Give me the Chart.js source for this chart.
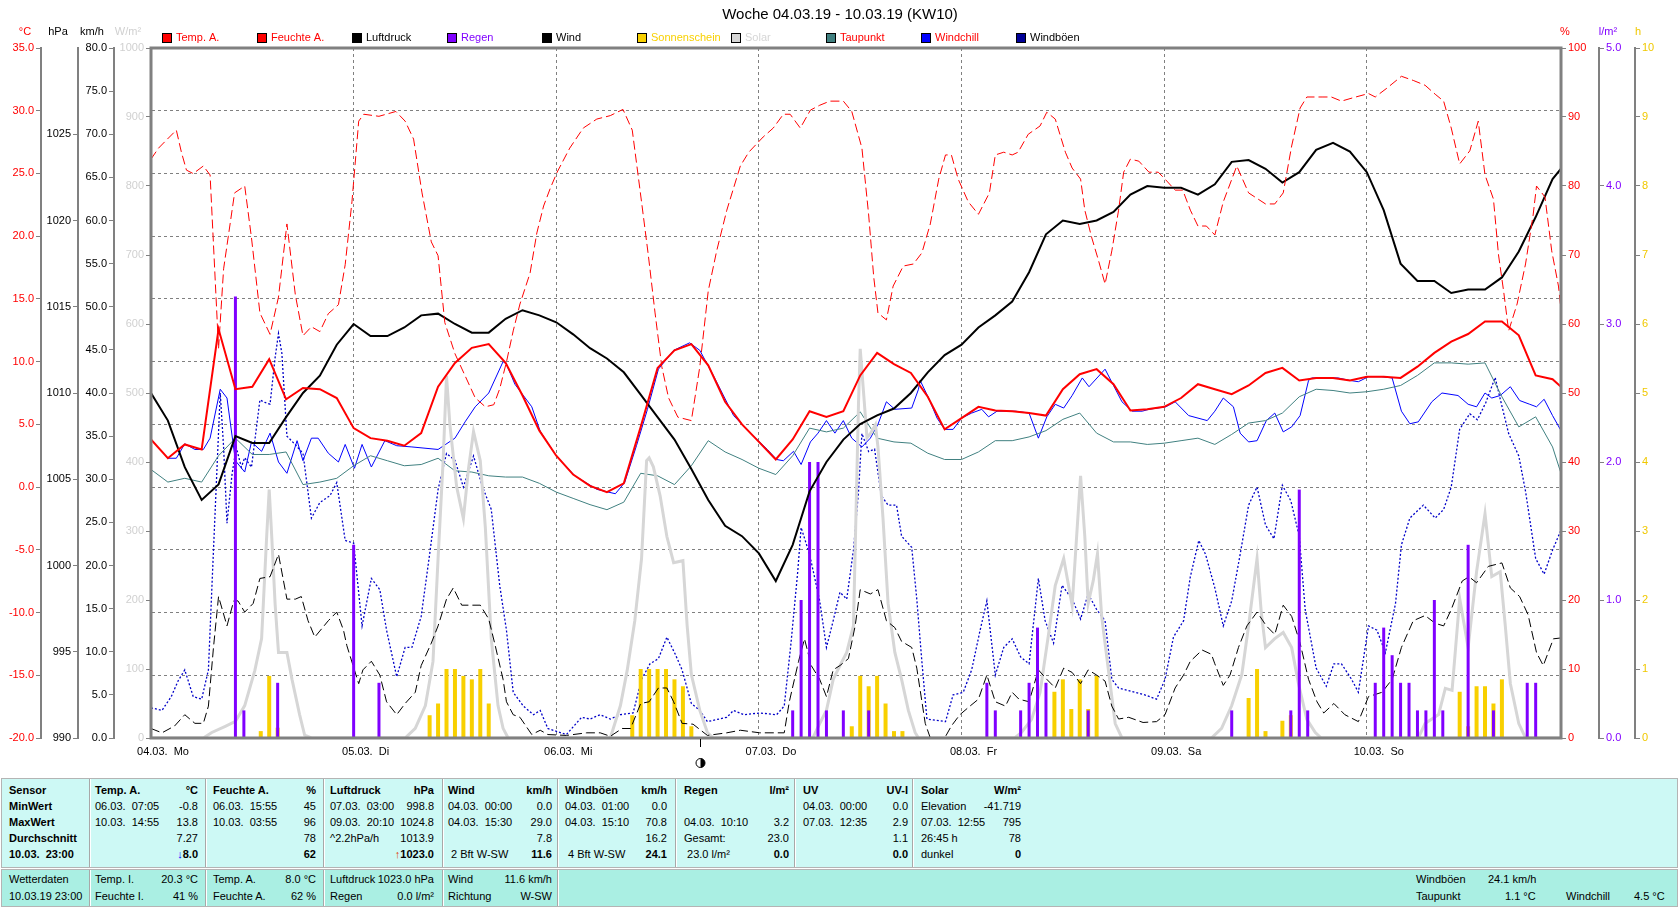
<!DOCTYPE html>
<html>
<head>
<meta charset="utf-8">
<title>Woche 04.03.19 - 10.03.19 (KW10)</title>
<script src="https://cdn.jsdelivr.net/npm/chart.js@4.4.1/dist/chart.umd.min.js"></script>
<style>
  html, body { margin: 0; padding: 0; background: #fff; }
  body { width: 1680px; height: 909px; position: relative; overflow: hidden; font: 11px 'Liberation Sans', Arial, sans-serif; color: #000; }
  #wetter { position: absolute; left: 0; top: 0; }
  .blk { position: absolute; left: 1px; width: 1675px; border: 1px solid #b4b4b4; }
  .sep { position: absolute; width: 1px; background: #a8a8a8; border-right: 1px solid #fff; }
  .col { position: absolute; }
  .col div { display: flex; justify-content: space-between; white-space: pre; height: 16px; line-height: 16px; }
  .low div { height: 17px; line-height: 17px; }
  .t { position: absolute; white-space: pre; line-height: 17px; }
</style>
</head>
<body>
<canvas id="wetter" width="1680" height="770"></canvas>

<div class="blk" style="top:778px;height:88px;background:#cdf9f5"></div>
<div class="blk" style="top:869px;height:36px;background:#aaefe3"></div>
<div class="sep" style="left:89px;top:779px;height:88px"></div>
<div class="sep" style="left:205px;top:779px;height:88px"></div>
<div class="sep" style="left:323px;top:779px;height:88px"></div>
<div class="sep" style="left:442px;top:779px;height:88px"></div>
<div class="sep" style="left:557px;top:779px;height:88px"></div>
<div class="sep" style="left:675px;top:779px;height:88px"></div>
<div class="sep" style="left:794px;top:779px;height:88px"></div>
<div class="sep" style="left:912px;top:779px;height:88px"></div>
<div class="sep" style="left:89px;top:870px;height:36px"></div>
<div class="sep" style="left:205px;top:870px;height:36px"></div>
<div class="sep" style="left:323px;top:870px;height:36px"></div>
<div class="sep" style="left:442px;top:870px;height:36px"></div>
<div class="sep" style="left:557px;top:870px;height:36px"></div>

<div class="col" style="left:9px;width:76px;top:782px">
  <div><b>Sensor</b></div><div><b>MinWert</b></div><div><b>MaxWert</b></div><div><b>Durchschnitt</b></div><div><b>10.03.  23:00</b></div>
</div>
<div class="col" style="left:95px;width:103px;top:782px">
  <div><b>Temp. A.</b><b>°C</b></div>
  <div><span>06.03.  07:05</span><span>-0.8</span></div>
  <div><span>10.03.  14:55</span><span>13.8</span></div>
  <div><span></span><span>7.27</span></div>
  <div><span></span><b><span style="color:#0000ff">↓</span>8.0</b></div>
</div>
<div class="col" style="left:213px;width:103px;top:782px">
  <div><b>Feuchte A.</b><b>%</b></div>
  <div><span>06.03.  15:55</span><span>45</span></div>
  <div><span>10.03.  03:55</span><span>96</span></div>
  <div><span></span><span>78</span></div>
  <div><span></span><b>62</b></div>
</div>
<div class="col" style="left:330px;width:104px;top:782px">
  <div><b>Luftdruck</b><b>hPa</b></div>
  <div><span>07.03.  03:00</span><span>998.8</span></div>
  <div><span>09.03.  20:10</span><span>1024.8</span></div>
  <div><span>^2.2hPa/h</span><span>1013.9</span></div>
  <div><span></span><b><span style="color:#e04000">↑</span>1023.0</b></div>
</div>
<div class="col" style="left:448px;width:104px;top:782px">
  <div><b>Wind</b><b>km/h</b></div>
  <div><span>04.03.  00:00</span><span>0.0</span></div>
  <div><span>04.03.  15:30</span><span>29.0</span></div>
  <div><span></span><span>7.8</span></div>
  <div><span> 2 Bft W-SW</span><b>11.6</b></div>
</div>
<div class="col" style="left:565px;width:102px;top:782px">
  <div><b>Windböen</b><b>km/h</b></div>
  <div><span>04.03.  01:00</span><span>0.0</span></div>
  <div><span>04.03.  15:10</span><span>70.8</span></div>
  <div><span></span><span>16.2</span></div>
  <div><span> 4 Bft W-SW</span><b>24.1</b></div>
</div>
<div class="col" style="left:684px;width:105px;top:782px">
  <div><b>Regen</b><b>l/m²</b></div>
  <div><span></span><span></span></div>
  <div><span>04.03.  10:10</span><span>3.2</span></div>
  <div><span>Gesamt:</span><span>23.0</span></div>
  <div><span> 23.0 l/m²</span><b>0.0</b></div>
</div>
<div class="col" style="left:803px;width:105px;top:782px">
  <div><b>UV</b><b>UV-I</b></div>
  <div><span>04.03.  00:00</span><span>0.0</span></div>
  <div><span>07.03.  12:35</span><span>2.9</span></div>
  <div><span></span><span>1.1</span></div>
  <div><span></span><b>0.0</b></div>
</div>
<div class="col" style="left:921px;width:100px;top:782px">
  <div><b>Solar</b><b>W/m²</b></div>
  <div><span>Elevation</span><span>-41.719</span></div>
  <div><span>07.03.  12:55</span><span>795</span></div>
  <div><span>26:45 h</span><span>78</span></div>
  <div><span>dunkel</span><b>0</b></div>
</div>

<div class="col low" style="left:9px;width:76px;top:871px">
  <div><span>Wetterdaten</span></div><div><span>10.03.19 23:00</span></div>
</div>
<div class="col low" style="left:95px;width:103px;top:871px">
  <div><span>Temp. I.</span><span>20.3 °C</span></div>
  <div><span>Feuchte I.</span><span>41 %</span></div>
</div>
<div class="col low" style="left:213px;width:103px;top:871px">
  <div><span>Temp. A.</span><span>8.0 °C</span></div>
  <div><span>Feuchte A.</span><span>62 %</span></div>
</div>
<div class="col low" style="left:330px;width:104px;top:871px">
  <div><span>Luftdruck</span><span>1023.0 hPa</span></div>
  <div><span>Regen</span><span>0.0 l/m²</span></div>
</div>
<div class="col low" style="left:448px;width:104px;top:871px">
  <div><span>Wind</span><span>11.6 km/h</span></div>
  <div><span>Richtung</span><span>W-SW</span></div>
</div>
<div class="t" style="left:1416px;top:871px">Windböen</div>
<div class="t" style="left:1488px;top:871px">24.1 km/h</div>
<div class="t" style="left:1416px;top:888px">Taupunkt</div>
<div class="t" style="left:1505px;top:888px">1.1 °C</div>
<div class="t" style="left:1566px;top:888px">Windchill</div>
<div class="t" style="left:1634px;top:888px">4.5 °C</div>

<script>
const FONT = "'Liberation Sans', Arial, sans-serif";
const chartTitle = 'Woche 04.03.19 - 10.03.19 (KW10)';

// x axis: hours since 04.03. 00:00
const dayTicks = [0, 24, 48, 72, 96, 120, 144];
const dayLabels = ['04.03.  Mo', '05.03.  Di', '06.03.  Mi', '07.03.  Do', '08.03.  Fr', '09.03.  Sa', '10.03.  So'];
const moonHour = 65;

// two-hourly readings
const grid2h = [0,2,4,6,8,10,12,14,16,18,20,22,24,26,28,30,32,34,36,38,40,42,44,46,48,50,52,54,56,58,60,62,64,66,68,70,72,74,76,78,80,82,84,86,88,90,92,94,96,98,100,102,104,106,108,110,112,114,116,118,120,122,124,126,128,130,132,134,136,138,140,142,144,146,148,150,152,154,156,158,160,162,164,166,167];

const tempA = [3.8,2.3,3.4,3.0,12.6,7.8,8.0,10.2,7.0,7.9,7.8,7.1,4.7,3.9,3.7,3.3,4.3,8.0,9.9,11.1,11.4,
  9.9,7.3,4.5,2.5,1.0,0.1,-0.4,0.3,4.8,9.5,10.9,11.4,9.7,6.8,5.0,3.6,2.2,3.8,6.05,5.6,6.05,8.9,
  10.7,9.8,9.1,7.2,4.6,5.5,6.4,6.1,6.05,5.9,5.7,7.8,9.0,9.4,8.2,6.1,6.2,6.4,7.1,8.2,7.8,
  7.4,8.1,9.1,9.5,8.5,8.7,8.7,8.5,8.8,8.8,8.7,9.6,10.7,11.6,12.2,13.2,13.2,12.1,8.9,8.6,8.0];

const luftdruck = [1010.0,1008.4,1005.7,1003.8,1004.7,1007.5,1007.1,1007.1,1008.6,1010.0,1011.0,1012.8,1014.0,1013.3,1013.3,1013.8,1014.5,1014.6,1014.0,1013.5,1013.5,
  1014.3,1014.8,1014.5,1014.1,1013.4,1012.6,1012.0,1011.2,1009.9,1008.6,1007.3,1005.6,1003.8,1002.3,1001.7,1000.7,999.1,1001.2,1004.3,1006.0,1007.3,1008.2,
  1008.7,1009.1,1010.0,1011.2,1012.2,1012.8,1013.8,1014.5,1015.3,1017.0,1019.2,1020.0,1019.8,1020.0,1020.5,1021.5,1022.0,1021.9,1021.9,1021.5,1022.1,
  1023.4,1023.5,1023.0,1022.2,1022.8,1024.1,1024.5,1024.0,1022.8,1020.6,1017.5,1016.5,1016.5,1015.8,1016.0,1016.0,1016.7,1018.2,1020.2,1022.4,1023.0];

const taupunkt = [1.4,0.4,0.7,0.4,2.5,3.9,2.6,2.6,2.8,0.2,0.4,0.7,1.7,2.5,2.1,1.7,1.8,2.3,1.3,1.2,0.9,
  0.8,0.8,0.3,-0.4,-0.9,-1.4,-1.8,-1.2,1.1,0.9,0.2,1.7,3.7,2.8,2.2,1.5,1.0,2.5,4.7,4.4,4.7,6.0,
  3.9,3.6,3.5,2.7,2.2,2.2,2.8,3.7,3.7,4.0,4.5,5.4,5.9,4.3,3.6,3.6,3.4,3.5,3.7,3.9,3.4,
  4.2,5.1,5.3,5.9,7.2,7.8,7.7,7.5,7.6,7.8,8.1,8.9,9.9,9.9,9.8,9.9,7.2,4.8,5.6,3.2,1.1];

// [hour, value] readings of the jagged series
const feuchte = [[0,83.9],[0.9,85.5],[1.7,86.5],[3,88.1],[3.6,84.9],[4.2,82.3],[5,81.8],[6.2,82.9],[7,81.6],[8,56.4],[8.6,68],[9.9,79],[11.1,80],[11.9,72.5],[12.9,61.6],[14.1,58.5],[15.1,63.9],[16.1,74.5],[17.1,64.2],[18,58.3],[19,59.6],[20,58.9],[21,61.5],[22.2,62.8],[23,68.6],[23.8,77.7],[24.6,89.4],[25.2,90.4],[27,90.1],[29,90.8],[30.1,89.4],[31.1,86.8],[32.1,79],[33.2,71.9],[34,69.9],[34.8,60.2],[36,55.7],[37.2,52.5],[38.4,49.3],[39.6,48],[40.6,48.3],[41.3,50.6],[42.1,54.5],[42.9,59],[43.7,62.9],[44.9,67.4],[45.7,73.2],[46.5,77.1],[47.3,79.7],[48.1,82],[49.6,85.5],[51.2,88.4],[52.8,89.7],[54.4,90.2],[55.9,91.1],[57,88.1],[58.1,77.7],[58.9,70],[59.7,61.6],[60.5,53.8],[61.3,49.3],[62.4,46.5],[64,46],[65,53.8],[66,64.8],[67,70.6],[68.2,76.5],[69.8,82.9],[70.8,84.9],[72.5,87.1],[73.7,88.4],[74.9,90.4],[75.7,90.4],[76.9,88.4],[78.1,91],[79.2,91.7],[80.4,92.3],[82,92.3],[83,90.8],[84.2,85.5],[85,75.8],[85.6,66.8],[86.1,61.6],[87.1,60.6],[87.9,65.5],[89.1,68.4],[90.3,68.7],[91.3,70.3],[92.3,74.5],[93.3,81],[94.1,84.5],[94.8,84.5],[95.6,81],[96.8,77.7],[98,75.9],[99.3,79],[100,84.5],[101,84.9],[102,84.5],[102.7,84.9],[103.9,87.5],[105.3,88.7],[106.1,90.7],[107.1,89.7],[108.3,84.9],[109.1,82.6],[110.1,81],[110.6,76.5],[111.4,72.6],[112.2,69.3],[113,65.8],[113.8,70.6],[114.6,76.5],[115.2,82],[116,83.9],[117,83.6],[118.2,82],[119.3,82],[120.1,81],[121.3,79.4],[122.2,79.4],[123.1,76.5],[124,74.2],[125,74.2],[126,72.9],[127,77.7],[128.6,82.9],[130,79],[132,77.4],[133.1,77.4],[134.1,79],[135.1,85.8],[136.1,91.3],[136.9,92.9],[138.7,92.9],[139.8,92.9],[141,92.3],[142.4,92.8],[144.2,93.4],[145,92.9],[146.4,94.2],[148.1,95.9],[149.5,95.3],[150.9,94.6],[152.1,93.3],[153.1,92.3],[154,88.4],[155,83.2],[156.2,85.1],[157.2,89.4],[158,81.6],[159,78.1],[159.6,70],[160.2,64.8],[160.8,59],[161.8,62.9],[162.8,68.7],[163.7,75.8],[164.1,80],[165.1,78.4],[165.9,70.6],[166.7,65.5],[167,62]];

const wind = [[0,1.1],[1.3,0.6],[2.8,1.4],[4,2.7],[5.2,1.7],[6.2,1.7],[6.8,3.7],[7.4,10.5],[8,16.4],[9,13],[9.8,15.9],[10.3,15.9],[11.1,14.6],[12.1,15.6],[12.9,18.5],[14.1,18.7],[15.1,21.3],[16.1,16.1],[17.1,16.1],[17.8,16.4],[18.6,13.6],[19.4,11.7],[21,13.6],[22,14.6],[22.8,12.5],[23.2,10.7],[24.6,6.3],[25.1,7.9],[26.1,8.9],[27.1,7.3],[27.9,4.2],[29.1,2.7],[30.1,4],[31.3,5.3],[32,8.4],[33.2,11],[34,13],[35,16.1],[35.8,17.4],[36.8,15.4],[37.6,15.4],[39,15.4],[40,13.8],[40.7,11],[41.7,6.8],[42.1,4.2],[42.9,2.7],[43.7,2.4],[45.1,0.4],[46.1,0.9],[47,0.4],[49.2,0.3],[51.6,0.6],[53.2,0.6],[54.4,0.2],[55.8,1.1],[56.8,1.1],[58,4],[59,4.2],[60.1,5.8],[61.1,5.8],[61.9,4.2],[62.9,1.7],[64.2,1.6],[65.9,0.3],[68.2,0.6],[69.8,0.9],[72.1,0.6],[74.1,0.6],[75,0.6],[75.6,4.2],[76.7,8.9],[77.4,11.5],[78.2,8.4],[79.2,6.8],[80,4.8],[80.8,7.9],[81.6,8.4],[82.6,9.2],[83.4,13],[84,17.2],[85.2,16.7],[86.1,17.2],[87.1,13.6],[88.1,12.8],[88.9,11.2],[90.1,10.5],[90.7,8.1],[91.7,1.7],[92.3,0],[94,0],[94.8,1.4],[95.8,2.7],[97,3.7],[98,4.5],[99,7.3],[100,4.2],[101.2,3.7],[102,5.3],[102.8,4.5],[104,4.2],[105.1,7.9],[106.1,6.8],[107.1,5.8],[108.1,8.1],[109.1,7.6],[110.1,6.3],[111,7.9],[112,7.3],[113,6.6],[113.8,3.7],[114.6,2.2],[115.8,2.4],[117.5,1.8],[119.1,1.9],[120.1,2.7],[121.3,5.8],[122.3,7.3],[123.1,8.9],[124.5,10.2],[125.6,9.7],[126,8.6],[127,6.1],[127.8,7.3],[128.8,10.5],[129.8,13],[131,14.6],[132.1,13],[133.1,12],[134.1,15.4],[135.1,14.1],[136.1,11],[137.1,6.8],[138.1,4.2],[138.9,2.9],[140.1,4],[141.4,2.7],[143,1.9],[144.2,4.8],[145.8,5.3],[147,6.8],[148.1,10.5],[149.5,13.6],[150.9,14.2],[152.1,13.3],[153.1,13],[154,14.9],[155.3,18.2],[156.1,18.7],[157,18],[158.4,19.9],[160,20.3],[161,17.4],[162.1,16.4],[163.1,14.3],[164.1,9.9],[164.9,8.4],[166.1,11.5],[167,11.6]];

const windboeen = [[0,3.5],[1.3,3.2],[2.4,4.8],[3.2,6.6],[4,7.9],[5,4.8],[6,4.5],[6.8,7.9],[7.4,21.8],[8.2,40],[8.6,33.7],[9,24.9],[9.6,30.6],[10.1,33.7],[10.7,31.4],[11.1,32.5],[11.9,31.4],[12.9,39.2],[13.5,38.9],[14.1,38.7],[14.7,44.1],[15.1,46.9],[15.5,44.6],[16.1,35],[17.1,34],[18,33],[19,25.5],[20,27.3],[21.2,28.1],[22,29.6],[23,22.9],[24,22.6],[25,13],[26.1,18.5],[27.1,17.2],[27.9,12.5],[29.1,7.1],[30.1,10.5],[30.9,10.5],[32,14.1],[33,21.3],[34,28.8],[35,33],[36,32.2],[37,29.1],[38.2,32.7],[39.2,29.3],[40.3,26.5],[41.3,17.7],[42.1,12.5],[42.9,5.3],[44.1,3.7],[45.3,2.7],[46.1,3.2],[47,1.1],[49.2,0.4],[51,2.4],[52,2.2],[53.2,2.7],[54.4,2.2],[55.6,2.7],[57.1,2.9],[58.1,6.8],[59.1,8.6],[60.1,9.2],[61.1,11.7],[62.1,9.7],[62.9,7.9],[64,4],[65,3.2],[65.9,1.9],[68.2,2.4],[69,3.2],[70.2,2.7],[72.1,2.9],[74.1,2.7],[75,3.7],[75.8,11],[76.6,19.3],[77,24.4],[78,21.3],[79.2,15.9],[80,10.5],[80.8,13.6],[81.6,16.9],[82.4,16.1],[83.2,21.8],[83.8,28.6],[84.2,35.3],[85,33.2],[85.7,33.5],[86.5,28.1],[87.3,27],[88.3,27],[88.9,23.4],[90.1,22.1],[90.7,16.1],[91.3,8.9],[91.9,2.2],[94.1,1.9],[95,5],[96.2,5.3],[97.2,7.9],[98.2,12.5],[99,15.9],[100,7.3],[101,10.5],[102,11.5],[103,9.4],[104,8.6],[105.1,18.5],[105.9,13.6],[106.9,11],[107.9,17.7],[109.1,16.1],[110.1,13.8],[111,16.7],[112,14.9],[113,13.6],[113.8,6.8],[114.6,5.8],[115.8,5.5],[117.7,5],[119.1,4.5],[120.1,6.8],[121.1,11.7],[122.3,13.6],[123.1,18.7],[124.1,22.9],[124.9,21.3],[126,17.4],[127,13],[128,15.9],[129,21.3],[130,27],[131,29.1],[132,24.7],[133,23.1],[134,29.3],[135,27.5],[136,23.4],[136.7,14.9],[138,8.1],[139.2,6],[140.1,8.6],[141,8.6],[142.2,6.8],[143,5.3],[144.2,13],[145.2,12.5],[146.2,9.9],[147.4,15.6],[148.1,22.4],[149.1,25.5],[150.7,27],[152.1,25.5],[153.1,26.5],[154,29.1],[155,35.8],[156.2,37.6],[157.1,36.9],[158.1,38.9],[159.2,41.8],[159.9,38.9],[160.8,35.3],[162,32.7],[162.8,28.6],[164,20.8],[165,19],[166,21.8],[167,24.1]];

const windchill = [[0,3.8],[2,2.3],[3,2.3],[4,3.45],[5.2,3],[6.2,3],[7,3.9],[8.2,7.8],[9,7.1],[10,2.1],[11.1,1.2],[11.9,3.6],[13.1,2.85],[14.1,4.3],[15.1,2],[16.1,1.1],[17.3,3.7],[18,2.1],[19,3.9],[19.8,3.9],[21,2.7],[22.2,2],[23,3.4],[24.1,1.5],[25,3.4],[26.1,1.6],[27.7,3.7],[29.1,3.3],[30.9,3.2],[34,3],[36,3.9],[37.2,5.2],[38.4,6.4],[40,7.5],[41.7,10],[42.1,9.8],[43.1,8.2],[45.1,6.4],[46.1,4.45],[48,2.5],[50.2,0.9],[52.8,-0.18],[55,-0.53],[56.1,0.36],[57.5,3.3],[58.8,6.2],[60.1,9.4],[61.9,10.9],[63.8,11.5],[65,10.9],[66.6,8.9],[69,5.7],[71,4.3],[73,3],[74.1,2.2],[74.9,2.1],[76.1,2.85],[77,1.8],[78.1,3.6],[79,4.3],[80,5.3],[81,4.3],[82,5.3],[83,3.9],[84.2,3.2],[85.2,3.9],[86.1,5],[87.1,6.8],[88.1,6.2],[90.1,6.3],[90.9,7.8],[91.1,8.5],[92.1,7.1],[93.1,5.5],[94,4.6],[95,4.6],[96,5.5],[97.2,5.9],[98.4,6.2],[99.2,5.6],[100.2,6.05],[102.4,6.05],[104,5.9],[105.1,3.9],[106.1,5.6],[107.1,6.6],[108.1,6.3],[109.1,7.3],[110.3,8.7],[111.1,8],[113,9.4],[115,6.8],[116.2,6.05],[117.4,6.05],[118.2,6.2],[120.2,6.4],[121.3,6.8],[122.9,5.7],[125.1,5.3],[126,6.05],[127,7.1],[128.2,6.4],[129,4.3],[130,3.6],[131,3.7],[132.1,5.3],[133.1,5.9],[134.1,4.4],[135.1,4.8],[136.1,5.7],[137.1,8.5],[137.5,8.7],[140.6,8.7],[142,8.5],[143,8.4],[144.2,8.8],[145.7,8.8],[147,8.7],[148.1,6.05],[149.1,5.05],[150.1,5.2],[151.7,6.8],[152.9,7.5],[154.8,7.3],[156,6.6],[157,6.4],[158,7.5],[158.8,7.1],[159.8,7.3],[161,8],[162.1,6.9],[163.3,6.6],[164.1,6.4],[165,7],[166,5.7],[167,4.5]];

const solar = [[0,0],[6.2,0],[7.2,8],[8.8,17],[10,24],[11.1,47],[12.3,98],[13.1,144],[13.7,292],[14,360],[14.3,292],[14.7,194],[15.1,124],[16.1,124],[16.7,85],[17.6,34],[18.2,4],[19,0],[30.1,0],[31.3,14],[32.5,47],[33.4,111],[34,260],[34.6,402],[35,525],[35.4,454],[36.2,364],[37,318],[37.6,390],[38.2,444],[39,402],[39.6,305],[40.3,144],[41.1,47],[41.7,14],[42.3,0],[54.4,0],[55.6,47],[56.4,98],[57.3,170],[58.1,260],[58.7,402],[59,406],[59.5,393],[60.3,351],[61.1,292],[61.9,254],[63,257],[63.5,163],[64,92],[65,40],[65.9,8],[66.6,0],[78.4,0],[79.2,21],[80,40],[80.8,85],[81.6,105],[82.4,124],[83.2,163],[83.8,487],[84,564],[84.4,500],[84.8,435],[85.2,441],[85.8,454],[86.1,422],[86.7,318],[87.3,195],[88.1,124],[88.9,85],[89.7,40],[90.5,8],[90.9,0],[102.3,0],[103.1,8],[104.3,27],[105.3,66],[106.3,150],[107.1,221],[108.1,260],[109.1,192],[109.6,286],[110.1,380],[110.6,292],[111,195],[111.6,228],[112.1,267],[112.6,176],[113.4,98],[114.2,21],[115,0],[125.6,0],[126.8,14],[128,47],[129.2,92],[130,163],[131,260],[131.5,182],[132,131],[133.1,144],[134.1,153],[135.1,131],[135.9,79],[136.9,27],[137.9,8],[138.6,0],[150.1,0],[150.9,21],[152.5,34],[153.3,72],[154.1,69],[155,202],[156,131],[157,241],[158,325],[158.8,234],[159.8,241],[160.4,163],[161,79],[162,21],[162.8,0],[167,0]];

// hourly bar totals
const regenHours = [10,11,15,24,27,76,77,78,79,80,82,85,99,100,103,104,105,106,111,128,135,136,137,145,146,147,148,149,150,151,152,153,156,159,163,164];
const regen = [3.2,0.2,0.4,1.4,0.4,0.2,1.0,2.0,2.0,0.2,0.2,0.2,0.4,0.2,0.2,0.4,0.8,0.4,0.2,0.2,0.2,1.8,0.2,0.4,0.8,0.6,0.4,0.4,0.2,0.2,1.0,0.2,1.4,0.2,0.4,0.4];
const sonneHours = [13,14,15,33,34,35,36,37,38,39,40,57,58,59,60,61,62,63,64,83,84,85,86,87,88,89,107,108,109,110,111,112,130,131,132,134,135,155,156,157,158,159,160];
const sonne = [0.1,0.9,0.15,0.33,0.5,1,1,0.9,0.85,1,0.5,0.33,1,1,1,1,0.85,0.75,0.17,0.17,0.9,0.75,0.9,0.5,0.1,0.1,0.67,0.85,0.42,0.85,0.42,0.9,0.58,1,0.1,0.25,0.33,0.67,0.17,0.75,0.75,0.5,0.85];

const onGrid = vals => grid2h.map((h, i) => ({ x: h, y: vals[i] }));
const fromPairs = pairs => pairs.map(([x, y]) => ({ x, y }));
const bars = (hours, vals) => hours.map((h, i) => ({ x: h, y: vals[i] }));

const GRID = '#808080';
const units = [
  ['°C', 25, '#ff0000'], ['hPa', 58, '#000000'], ['km/h', 92, '#000000'], ['W/m²', 128, '#d0d0d0'],
  ['%', 1565, '#ff0000'], ['l/m²', 1608, '#8000ff'], ['h', 1638, '#f0c800']
];

const deko = {
  id: 'deko',
  afterDatasetsDraw(chart) {
    const { ctx, chartArea: a, scales } = chart;
    ctx.save();
    ctx.strokeStyle = GRID;
    ctx.lineWidth = 3;
    ctx.strokeRect(a.left, a.top, a.right - a.left, a.bottom - a.top);
    // moon phase marker below the axis
    const mx = Math.round(scales.x.getPixelForValue(moonHour)) + 0.5;
    ctx.lineWidth = 1;
    ctx.strokeStyle = '#000';
    ctx.beginPath(); ctx.moveTo(mx, a.bottom + 1); ctx.lineTo(mx, a.bottom + 9); ctx.stroke();
    ctx.fillStyle = '#fff';
    ctx.beginPath(); ctx.arc(mx, a.bottom + 25, 4.5, 0, Math.PI * 2); ctx.fill(); ctx.stroke();
    ctx.fillStyle = '#000';
    ctx.beginPath(); ctx.arc(mx, a.bottom + 25, 4.5, -Math.PI / 2, Math.PI / 2); ctx.fill();
    ctx.restore();
  },
  afterDraw(chart) {
    const ctx = chart.ctx;
    ctx.save();
    ctx.textBaseline = 'middle';
    ctx.textAlign = 'center';
    ctx.fillStyle = '#000';
    ctx.font = '15px ' + FONT;
    ctx.fillText(chartTitle, 840, 15);

    ctx.font = '11px ' + FONT;
    units.forEach(([txt, x, col]) => { ctx.fillStyle = col; ctx.fillText(txt, x, 32); });

    ctx.textAlign = 'left';
    chart.data.datasets.forEach((ds, i) => {
      const bx = Math.round(162 + i * 94.9);
      ctx.fillStyle = ds.type === 'bar' ? ds.backgroundColor : (ds.boxColor || ds.borderColor);
      ctx.fillRect(bx, 33, 9, 9);
      ctx.strokeStyle = '#000';
      ctx.lineWidth = 1;
      ctx.strokeRect(bx + 0.5, 33.5, 9, 9);
      ctx.fillStyle = ds.legendColor;
      ctx.fillText(ds.label, bx + 14, 38);
    });
    ctx.restore();
  }
};

function sideTicks(color, fmt) {
  return { color: color, padding: 2, autoSkip: false, callback: fmt };
}
const sideGrid = { drawOnChartArea: false, tickLength: 5, tickColor: GRID, tickWidth: 1 };
const sideBorder = { display: true, color: GRID, width: 2 };

Chart.defaults.font.family = FONT;
Chart.defaults.font.size = 11;
Chart.defaults.color = '#000';

new Chart(document.getElementById('wetter').getContext('2d'), {
  type: 'line',
  data: {
    datasets: [
      { label: 'Temp. A.', data: onGrid(tempA), borderColor: '#ff0000', borderWidth: 2, yAxisID: 'yT', legendColor: '#ff0000' },
      { label: 'Feuchte A.', data: fromPairs(feuchte), borderColor: '#ff0000', borderWidth: 1, borderDash: [9, 4], yAxisID: 'yH', legendColor: '#ff0000' },
      { label: 'Luftdruck', data: onGrid(luftdruck), borderColor: '#000000', borderWidth: 2, yAxisID: 'yP', legendColor: '#000000' },
      { type: 'bar', label: 'Regen', data: bars(regenHours, regen), backgroundColor: '#8000ff', borderWidth: 0, grouped: false, maxBarThickness: 3, yAxisID: 'yR', legendColor: '#8000ff' },
      { label: 'Wind', data: fromPairs(wind), borderColor: '#000000', borderWidth: 1, borderDash: [9, 4], yAxisID: 'yW', legendColor: '#000000' },
      { type: 'bar', label: 'Sonnenschein', data: bars(sonneHours, sonne), backgroundColor: '#f8d000', borderWidth: 0, grouped: false, maxBarThickness: 4, yAxisID: 'ySun', legendColor: '#f8d000' },
      { label: 'Solar', data: fromPairs(solar), borderColor: '#d6d6d6', borderWidth: 3, yAxisID: 'yS', legendColor: '#d6d6d6' },
      { label: 'Taupunkt', data: onGrid(taupunkt), borderColor: '#408080', borderWidth: 1, yAxisID: 'yT', legendColor: '#ff0000' },
      { label: 'Windchill', data: fromPairs(windchill), borderColor: '#0000ff', borderWidth: 1, yAxisID: 'yT', legendColor: '#ff0000' },
      { label: 'Windböen', data: fromPairs(windboeen), borderColor: '#0000c8', boxColor: '#000098', borderWidth: 1.3, borderDash: [2, 2], yAxisID: 'yW', legendColor: '#000000' }
    ]
  },
  options: {
    responsive: false,
    animation: false,
    devicePixelRatio: 1,
    layout: { padding: { top: 48, left: 0, right: 0, bottom: 0 } },
    elements: { point: { radius: 0 }, line: { tension: 0, fill: false } },
    plugins: { legend: { display: false }, title: { display: false }, tooltip: { enabled: false } },
    scales: {
      x: {
        type: 'linear', min: 0, max: 167, offset: false,
        afterBuildTicks: s => { s.ticks = dayTicks.map(v => ({ value: v })); },
        afterFit: s => { s.height = 32; },
        grid: { color: GRID, lineWidth: 1, drawTicks: false, offset: false },
        border: { display: false, dash: [3, 3] },
        ticks: { padding: 7, labelOffset: 12, maxRotation: 0, autoSkip: false,
          callback: v => dayLabels[dayTicks.indexOf(v)] }
      },
      yT: {
        type: 'linear', position: 'left', weight: 4, min: -20, max: 35,
        afterFit: s => { s.width = 41; },
        grid: { color: GRID, lineWidth: 1, tickLength: 5, tickColor: GRID, tickBorderDash: [10, 0] },
        border: { display: true, color: GRID, width: 2, dash: [3, 3] },
        ticks: Object.assign({ stepSize: 5 }, sideTicks('#ff0000', v => v.toFixed(1)))
      },
      yP: {
        type: 'linear', position: 'left', weight: 3, min: 990, max: 1030,
        afterBuildTicks: s => { s.ticks = s.ticks.filter(t => t.value < 1030); },
        afterFit: s => { s.width = 37; },
        grid: sideGrid, border: sideBorder,
        ticks: Object.assign({ stepSize: 5 }, sideTicks('#000000', v => String(v)))
      },
      yW: {
        type: 'linear', position: 'left', weight: 2, min: 0, max: 80,
        afterFit: s => { s.width = 36; },
        grid: sideGrid, border: sideBorder,
        ticks: Object.assign({ stepSize: 5 }, sideTicks('#000000', v => v.toFixed(1)))
      },
      yS: {
        type: 'linear', position: 'left', weight: 1, min: 0, max: 1000,
        afterFit: s => { s.width = 37; },
        grid: sideGrid, border: { display: false },
        ticks: Object.assign({ stepSize: 100 }, sideTicks('#d0d0d0', v => String(v)))
      },
      yH: {
        type: 'linear', position: 'right', weight: 1, min: 0, max: 100,
        afterFit: s => { s.width = 38; },
        grid: sideGrid, border: { display: false },
        ticks: Object.assign({ stepSize: 10 }, sideTicks('#ff0000', v => String(v)))
      },
      yR: {
        type: 'linear', position: 'right', weight: 2, min: 0, max: 5,
        afterFit: s => { s.width = 36; },
        grid: sideGrid, border: sideBorder,
        ticks: Object.assign({ stepSize: 1 }, sideTicks('#8000ff', v => v.toFixed(1)))
      },
      ySun: {
        type: 'linear', position: 'right', weight: 3, min: 0, max: 10,
        afterFit: s => { s.width = 45; },
        grid: sideGrid, border: sideBorder,
        ticks: Object.assign({ stepSize: 1 }, sideTicks('#f0c800', v => String(v)))
      }
    }
  },
  plugins: [deko]
});
</script>
</body>
</html>
